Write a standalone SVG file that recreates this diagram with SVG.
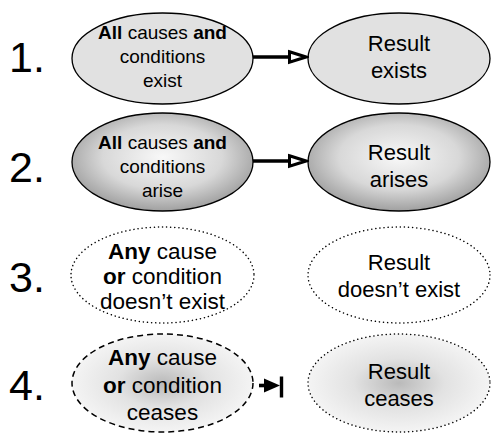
<svg xmlns="http://www.w3.org/2000/svg" width="492" height="433" viewBox="0 0 492 433">
<defs>
<radialGradient id="gArise" cx="50%" cy="45%" r="55%">
<stop offset="0" stop-color="#f8f8f8"/>
<stop offset="0.6" stop-color="#d8d8d8"/>
<stop offset="1" stop-color="#a0a0a0"/>
</radialGradient>
<radialGradient id="gCease" cx="50%" cy="50%" r="50%">
<stop offset="0" stop-color="#bababa"/>
<stop offset="0.5" stop-color="#e2e2e2"/>
<stop offset="1" stop-color="#f4f4f4"/>
</radialGradient>
<marker id="openHead" viewBox="0 0 22 16" refX="2" refY="8" markerWidth="22" markerHeight="16" markerUnits="userSpaceOnUse" orient="auto">
<path d="M2.5,2.8 L19,8 L2.5,13.2 Z" fill="#fff" stroke="#000" stroke-width="3" stroke-linejoin="miter"/>
</marker>
</defs>
<style>
text{font-family:"Liberation Sans",Arial,sans-serif;fill:#000;text-anchor:middle}
.num{font-size:43px;text-anchor:start}
.t{font-size:19px}
.r{font-size:22px}
.q{font-size:22.5px}
.b{font-weight:bold}
.solid{stroke:#000;stroke-width:1.3}
.dot{stroke:#000;stroke-width:1.5;stroke-dasharray:0.1 4;stroke-linecap:round}
.dash{stroke:#000;stroke-width:1.5;stroke-dasharray:6 4}
.conn{stroke:#000;stroke-width:3.6;fill:none}
</style>
<g id="labels">
<text class="num" x="9" y="72">1.</text>
<text class="num" x="9" y="182">2.</text>
<text class="num" x="9" y="292">3.</text>
<text class="num" x="9" y="400">4.</text>
</g>
<g id="n1a">
<ellipse class="solid" cx="162.5" cy="58.5" rx="90.5" ry="45.5" fill="#e1e1e1"/>
<text class="t" x="162.5" y="38.5"><tspan class="b">All</tspan> causes <tspan class="b">and</tspan></text>
<text class="t" x="162.5" y="62.5">conditions</text>
<text class="t" x="162.5" y="86.5">exist</text>
</g>
<g id="n1b">
<ellipse class="solid" cx="399" cy="58.5" rx="91" ry="45.5" fill="#e1e1e1"/>
<text class="r" x="399" y="51">Result</text>
<text class="r" x="399" y="78">exists</text>
</g>
<g id="n2a">
<ellipse class="solid" cx="162.5" cy="162" rx="90.5" ry="49" fill="url(#gArise)"/>
<text class="t" x="162.5" y="148.5"><tspan class="b">All</tspan> causes <tspan class="b">and</tspan></text>
<text class="t" x="162.5" y="172.5">conditions</text>
<text class="t" x="162.5" y="196.5">arise</text>
</g>
<g id="n2b">
<ellipse class="solid" cx="399" cy="162" rx="91" ry="49" fill="url(#gArise)"/>
<text class="r" x="399" y="160">Result</text>
<text class="r" x="399" y="187">arises</text>
</g>
<g id="n3a">
<ellipse class="dot" cx="162.5" cy="275" rx="91.5" ry="48" fill="#fff"/>
<text class="q" x="162.5" y="259"><tspan class="b">Any</tspan> cause</text>
<text class="q" x="162.5" y="284"><tspan class="b">or</tspan> condition</text>
<text class="q" x="162.5" y="309">doesn’t exist</text>
</g>
<g id="n3b">
<ellipse class="dot" cx="399" cy="275" rx="91" ry="48" fill="#fff"/>
<text class="r" x="399" y="270">Result</text>
<text class="r" x="399" y="297">doesn’t exist</text>
</g>
<g id="n4a">
<ellipse class="dash" cx="162.5" cy="383" rx="90.5" ry="49" fill="url(#gCease)"/>
<text class="q" x="162.5" y="365"><tspan class="b">Any</tspan> cause</text>
<text class="q" x="162.5" y="393"><tspan class="b">or</tspan> condition</text>
<text class="q" x="162.5" y="420">ceases</text>
</g>
<g id="n4b">
<ellipse class="dot" cx="399" cy="383" rx="91" ry="49" fill="url(#gCease)"/>
<text class="r" x="399" y="379">Result</text>
<text class="r" x="399" y="406">ceases</text>
</g>
<g id="connectors">
<line class="conn" x1="253" y1="57" x2="289" y2="57" marker-end="url(#openHead)"/>
<line class="conn" x1="253" y1="161" x2="289" y2="161" marker-end="url(#openHead)"/>
<line x1="259" y1="385.5" x2="268" y2="385.5" stroke="#000" stroke-width="3.6"/>
<path d="M264,378.5 L280,385.5 L264,392.5 Z" fill="#000"/>
<line x1="281.5" y1="376.5" x2="281.5" y2="397.5" stroke="#000" stroke-width="3.4"/>
</g>
</svg>
